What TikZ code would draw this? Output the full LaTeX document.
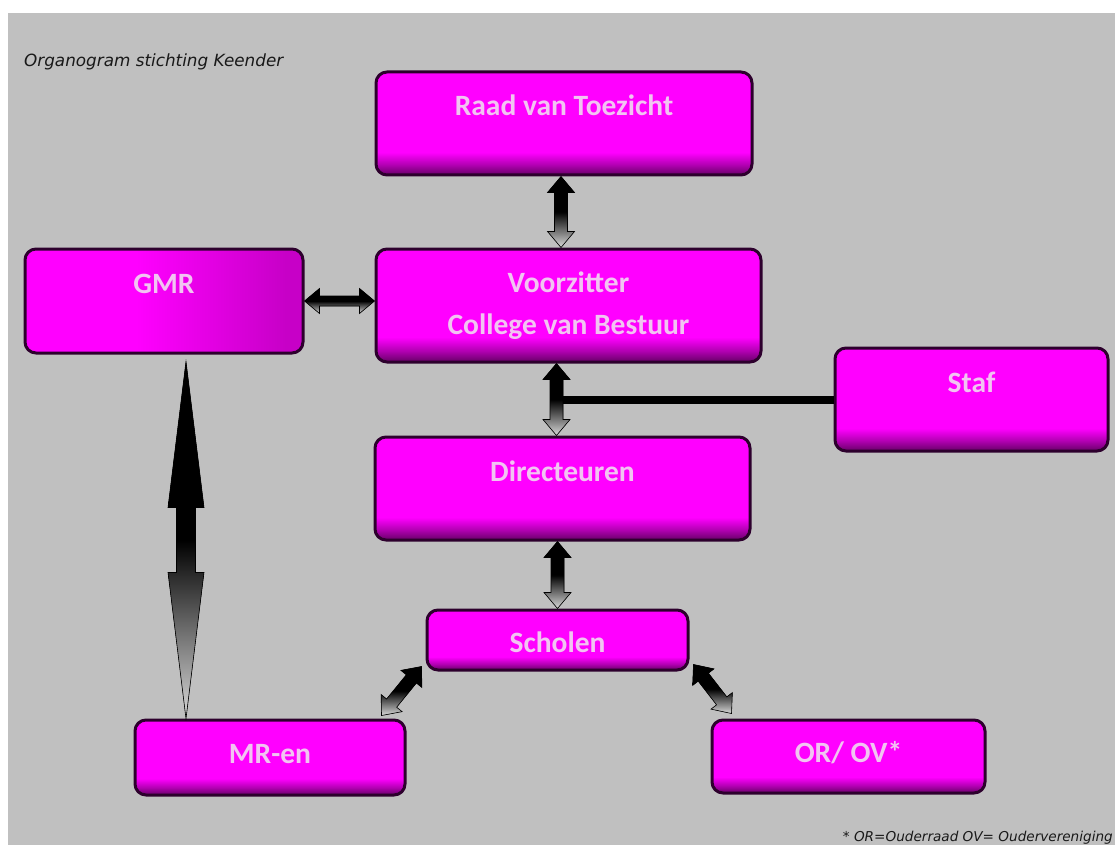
\documentclass[tikz,border=0pt]{standalone}
\usepackage{fontspec}
\setmainfont{Carlito}
\newfontfamily\notefont{DejaVu Sans}
\usetikzlibrary{calc}

\definecolor{sheetgray}{RGB}{192,192,192}
\definecolor{boxborder}{RGB}{45,0,45}
\definecolor{boxtext}{RGB}{242,196,242}
\definecolor{notetext}{RGB}{25,25,25}

\pgfdeclareverticalshading{boxshade}{100bp}{color(0bp)=(magenta!40!black); color(25bp)=(magenta!40!black); color(30bp)=(magenta!70!black); color(36bp)=(magenta); color(100bp)=(magenta)}
\pgfdeclarehorizontalshading{gmrshade}{100bp}{color(0bp)=(magenta); color(45bp)=(magenta); color(72bp)=(magenta!78!black); color(100bp)=(magenta!78!black)}

\tikzset{
  orgbox/.style={draw=boxborder, line width=3pt, rounded corners=11pt,
                 shade, shading=boxshade, inner sep=0pt, text=boxtext,
                 font=\fontsize{29.5}{35}\selectfont\bfseries},
  lowtext/.style={text height=20pt, text depth=35pt},
  midtext/.style={text height=20pt, text depth=8pt},
  twowayarrow/.style={draw=black, line width=0.6pt, line join=miter,
                      top color=black, bottom color=gray!30, middle color=black},
  notetxt/.style={text=notetext, inner sep=0pt}
}

% double block arrow: from, to, head length, head half width, shaft half width
\newcommand{\twoway}[5]{%
  \coordinate (ha) at ($(#1)!#3!(#2)$);
  \coordinate (hb) at ($(#2)!#3!(#1)$);
  \filldraw[twowayarrow] (#1)
    -- ($(ha)!#4!90:(#2)$) -- ($(ha)!#5!90:(#2)$)
    -- ($(hb)!#5!-90:(#1)$) -- ($(hb)!#4!-90:(#1)$)
    -- (#2)
    -- ($(hb)!#4!90:(#1)$) -- ($(hb)!#5!90:(#1)$)
    -- ($(ha)!#5!-90:(#2)$) -- ($(ha)!#4!-90:(#2)$) -- cycle;
}

\begin{document}
\begin{tikzpicture}[x=1pt, y=-1pt]
  \newcommand{\headlen}{16pt}
  \newcommand{\headwid}{13.5pt}
  \newcommand{\shaftwid}{6.5pt}

  \useasboundingbox (0,0) rectangle (1115,845);
  \fill[white] (0,0) rectangle (1115,845);
  \fill[sheetgray] (8,13) rectangle (1115,845);

  % Draws the title and the footnote
  \node[notetxt, anchor=base west, font=\notefont\itshape\fontsize{16.8}{20}\selectfont]
       (title) at (24,67) {Organogram stichting Keender};
  \node[notetxt, anchor=base east, font=\notefont\itshape\fontsize{13.6}{16}\selectfont]
       (note) at (1113,841) {* OR=Ouderraad OV= Oudervereniging};

  % Draws the boxes
  \node[orgbox, lowtext, minimum width=376pt, minimum height=103pt]
       (raad) at (564,123.5) {Raad van Toezicht};
  \node[orgbox, align=center, minimum width=385pt, minimum height=113pt]
       (voorz) at (568.5,305.5) {Voorzitter\\[7pt]College van Bestuur};
  \node[orgbox, lowtext, shading=gmrshade, minimum width=278pt, minimum height=104pt]
       (gmr) at (164,301) {GMR};
  \node[orgbox, lowtext, minimum width=273pt, minimum height=103pt]
       (staf) at (971.5,399.5) {Staf};
  \node[orgbox, lowtext, minimum width=375pt, minimum height=103pt]
       (dir) at (562.5,488.5) {Directeuren};
  \node[orgbox, text height=24pt, text depth=0pt, minimum width=261pt, minimum height=60pt]
       (scholen) at (557.5,640) {Scholen};
  \node[orgbox, midtext, minimum width=270pt, minimum height=75pt]
       (mr) at (270,757.5) {MR-en};
  \node[orgbox, midtext, minimum width=273pt, minimum height=73pt]
       (orov) at (848.5,756.5) {OR/ OV*};

  % End points of the connectors
  \coordinate (ra) at ($(raad.south)+(-3,0)$);
  \coordinate (rb) at (ra |- voorz.north);
  \coordinate (vd2) at ($(dir.north)+(-6,0)$);
  \coordinate (vd1) at (vd2 |- voorz.south);
  \coordinate (ds1) at (scholen.north |- dir.south);
  \coordinate (ds2) at (scholen.north);
  \coordinate (sm1) at ($(scholen.south west)+(-4,-5)$);
  \coordinate (sm2) at ($(mr.north east)+(-25,-3)$);
  \coordinate (so1) at ($(scholen.south east)+(4,-7)$);
  \coordinate (so2) at ($(orov.north west)+(21,-5)$);
  \coordinate (gm1) at ($(gmr.south)+(22,7)$);
  \coordinate (gm2) at (gm1 |- mr.north);

  % Draws the line to the staff
  \draw[line width=8pt] (vd1 |- staf.west) -- (staf.west);

  % Draws the arrows
  \foreach \from/\to in {ra/rb, vd1/vd2, ds1/ds2, so1/so2}
     \twoway{\from}{\to}{\headlen}{\headwid}{\shaftwid};
  \twoway{sm2}{sm1}{\headlen}{\headwid}{\shaftwid}
  \twoway{gmr.east}{gmr.east -| voorz.west}{15pt}{12.5pt}{5pt}
  \twoway{gm1}{gm2}{146pt}{18pt}{9.5pt}
\end{tikzpicture}
\end{document}
